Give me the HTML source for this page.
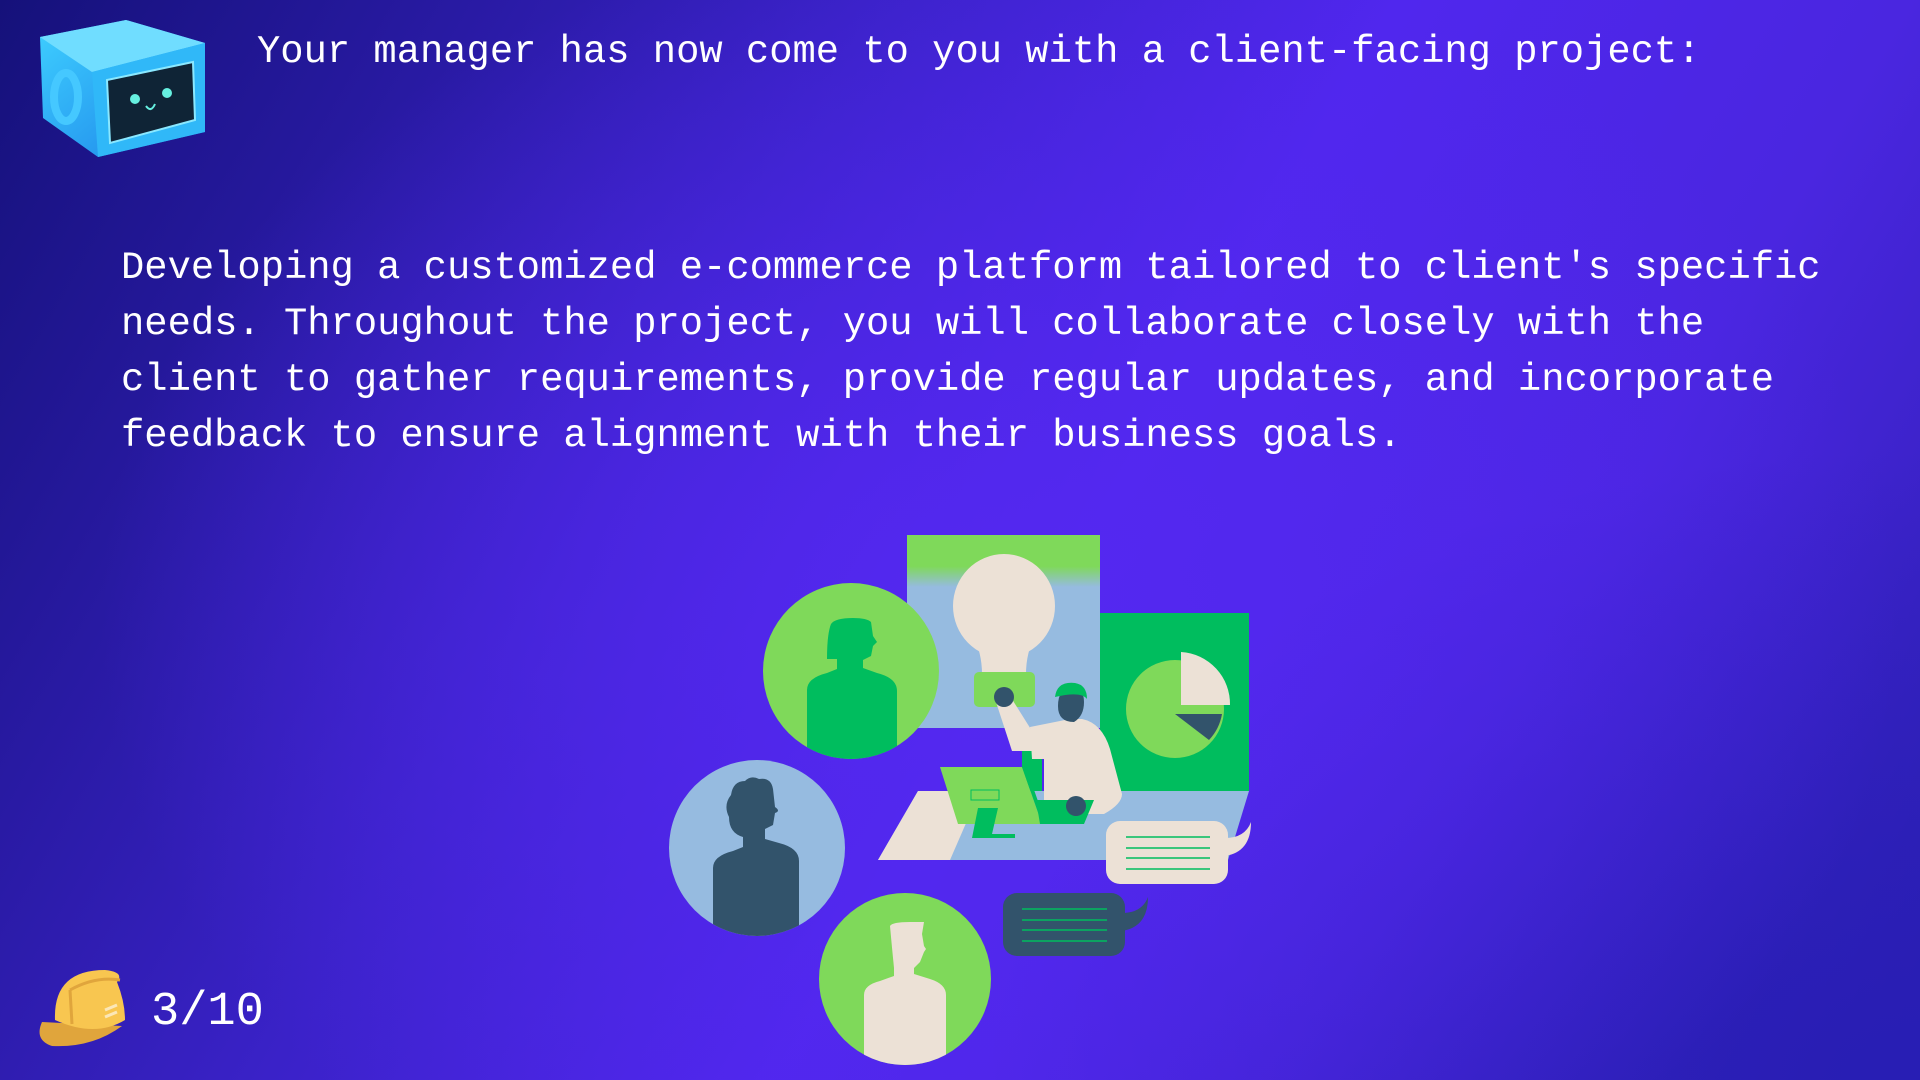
<!DOCTYPE html>
<html><head><meta charset="utf-8"><style>
html,body{margin:0;padding:0}
body{width:1920px;height:1080px;overflow:hidden;position:relative;
background:
radial-gradient(ellipse 900px 700px at 1000px 620px, rgba(84,40,240,1) 0%, rgba(84,40,240,0) 100%),
radial-gradient(ellipse 1300px 900px at 1900px 1080px, rgba(40,30,180,1) 0%, rgba(40,30,180,0) 70%),
linear-gradient(120deg,#15117a 0%,#3a22c8 35%,#5027ee 55%,#4a26e0 75%,#2c1fb0 100%);
font-family:"Liberation Mono",monospace;color:#fff}
.t{position:absolute;white-space:pre;font-size:38.8px;letter-spacing:0}
</style></head><body>
<svg style="position:absolute;left:0;top:0" width="240" height="180">
<defs><linearGradient id="cb" x1="0" y1="0" x2="1" y2="1"><stop offset="0" stop-color="#3fd0ff"/><stop offset="1" stop-color="#1a7fe8"/></linearGradient></defs>
<polygon points="40,37 126,20 205,43 205,132 98,157 43,118" fill="url(#cb)"/>
<polygon points="40,37 126,20 205,43 92,72" fill="#70ddff"/>
<polygon points="92,72 205,43 205,132 98,157" fill="#30b8f8"/>
<ellipse cx="66" cy="97" rx="12" ry="24" fill="none" stroke="#45c8ff" stroke-width="8"/>
<polygon points="107,80 193,62 195,120 110,143" fill="#0f2436" stroke="#8ae8ff" stroke-width="2"/>
<circle cx="135" cy="99" r="5" fill="#66f0e0"/><circle cx="167" cy="93" r="5" fill="#66f0e0"/>
<path d="M146 106 q5 7 9 -2" stroke="#66f0e0" stroke-width="2" fill="none"/>
</svg>
<div class="t" style="left:257px;top:30px">Your manager has now come to you with a client-facing project:</div>
<div class="t" style="left:121px;top:240px;line-height:56px">Developing a customized e-commerce platform tailored to client's specific
needs. Throughout the project, you will collaborate closely with the
client to gather requirements, provide regular updates, and incorporate
feedback to ensure alignment with their business goals.</div>

<svg style="position:absolute;left:0;top:0" width="1920" height="1080">
<defs>
<clipPath id="c1"><circle cx="851" cy="671" r="88"/></clipPath>
<clipPath id="c2"><circle cx="757" cy="848" r="88"/></clipPath>
<clipPath id="c3"><circle cx="905" cy="979" r="86"/></clipPath>
<linearGradient id="gb" x1="0" y1="0" x2="0" y2="1"><stop offset="0.6" stop-color="#7fd95a"/><stop offset="1" stop-color="#96bbe0"/></linearGradient>
</defs>
<!-- back board -->
<rect x="907" y="535" width="193" height="193" fill="#96bbe0"/>
<rect x="907" y="535" width="193" height="52" fill="url(#gb)"/>
<!-- green chart board -->
<rect x="1100" y="613" width="149" height="178" fill="#00bd5e"/>
<circle cx="1175" cy="709" r="49" fill="#7fd95a"/>
<path d="M1181 652 a52 52 0 0 1 49 53 h-49z" fill="#ece1d6"/>
<path d="M1175 714 h47 a50 50 0 0 1 -13 26z" fill="#32536b"/>
<!-- desk -->
<polygon points="918,791 1249,791 1228,860 878,860" fill="#96bbe0"/>
<polygon points="918,791 980,791 950,860 878,860" fill="#ece1d6"/>
<!-- bulb -->
<ellipse cx="1004" cy="606" rx="51" ry="52" fill="#ece1d6"/>
<path d="M970 630 q12 20 12 44 h44 q0 -24 12 -44z" fill="#ece1d6"/>
<rect x="974" y="672" width="61" height="35" rx="5" fill="#7fd95a"/>
<!-- person -->
<rect x="1022" y="749" width="20" height="42" fill="#00bd5e"/>
<path d="M1030 727 l40 -8 l12 0 q20 4 28 30 l12 45 q0 10 -18 20 l-60 0 l0 -55 l-12 0z" fill="#ece1d6"/>
<path d="M996 702 l14 -6 l22 35 l0 20 l-20 0z" fill="#ece1d6"/>
<circle cx="1004" cy="697" r="10" fill="#32536b"/>
<path d="M1058 706 q0 -18 14 -18 q12 0 12 14 q0 14 -10 20 q-16 0 -16 -16z" fill="#32536b"/>
<path d="M1055 697 q2 -16 20 -14 q12 2 12 16 q-6 -8 -32 -2z" fill="#00bd5e"/>
<!-- laptop -->
<polygon points="940,767 1022,767 1042,824 958,824" fill="#7fd95a"/>
<polygon points="1022,767 1026,767 1046,824 1042,824" fill="#00bd5e"/>
<polygon points="1036,800 1094,800 1084,824 1040,824" fill="#00bd5e"/>
<rect x="971" y="790" width="28" height="10" fill="#7fd95a" stroke="#00bd5e" stroke-width="1"/>
<polygon points="978,808 998,808 992,834 1015,834 1015,838 972,838" fill="#00bd5e"/>
<circle cx="1076" cy="806" r="10" fill="#32536b"/>
<!-- circles -->
<circle cx="851" cy="671" r="88" fill="#7fd95a"/>
<g clip-path="url(#c1)"><path d="M807 760 l0 -70 q0 -12 20 -17 l10 -4 l0 -10 l-10 0 q0 -25 4 -35 q4 -6 22 -6 q14 0 18 4 l2 14 l4 6 l-4 4 l-2 10 l-8 4 l0 8 l14 5 q20 5 20 18 l0 80z" fill="#00bd5e"/></g>
<circle cx="757" cy="848" r="88" fill="#96bbe0"/>
<g clip-path="url(#c2)"><path d="M713 940 l0 -72 q0 -12 20 -17 l10 -4 l0 -10 q-14 -4 -14 -20 q-6 -12 2 -22 q2 -14 14 -14 q6 -6 14 -2 q12 -2 14 10 l2 18 q6 4 0 6 l-2 12 l-8 4 l0 10 l14 4 q20 5 20 18 l0 80z" fill="#32536b"/></g>
<circle cx="905" cy="979" r="86" fill="#7fd95a"/>
<g clip-path="url(#c3)"><path d="M864 1070 l0 -75 q0 -10 16 -14 l14 -5 l0 -8 q-2 -20 -4 -42 q2 -4 20 -4 l14 0 l-2 12 l2 12 l2 3 l-2 3 l-4 10 l-6 6 l0 6 l16 5 q16 5 16 16 l0 80z" fill="#ece1d6"/></g>
<!-- bubbles -->
<rect x="1106" y="821" width="122" height="63" rx="14" fill="#ece1d6"/>
<path d="M1225 838 q20 0 26 -16 q0 30 -26 34z" fill="#ece1d6"/>
<g stroke="#00bd5e" stroke-width="1.5"><line x1="1126" y1="837" x2="1210" y2="837"/><line x1="1126" y1="848" x2="1210" y2="848"/><line x1="1126" y1="858" x2="1210" y2="858"/><line x1="1126" y1="869" x2="1210" y2="869"/></g>
<rect x="1003" y="893" width="122" height="63" rx="14" fill="#32536b"/>
<path d="M1122 913 q20 0 26 -16 q0 30 -26 34z" fill="#32536b"/>
<g stroke="#00bd5e" stroke-width="1.5"><line x1="1022" y1="909" x2="1107" y2="909"/><line x1="1022" y1="920" x2="1107" y2="920"/><line x1="1022" y1="930" x2="1107" y2="930"/><line x1="1022" y1="941" x2="1107" y2="941"/></g>
<!-- helmet -->
<path d="M42 1022 q-8 18 10 24 q40 2 70 -20 z" fill="#e0a53c"/>
<path d="M55 1020 q-2 -50 50 -50 q20 2 12 12 q8 20 8 38 q-30 18 -70 0z" fill="#f8c650"/>
<path d="M70 990 q25 -14 50 -10" stroke="#e0a53c" stroke-width="3" fill="none"/>
<path d="M70 990 l2 34" stroke="#e0a53c" stroke-width="3" fill="none"/>
<path d="M105 1010 l12 -5 M105 1017 l12 -5" stroke="#fbe7b8" stroke-width="3"/>
</svg>
<div class="t" style="left:151px;top:986px;font-size:47px">3/10</div>
</body></html>
